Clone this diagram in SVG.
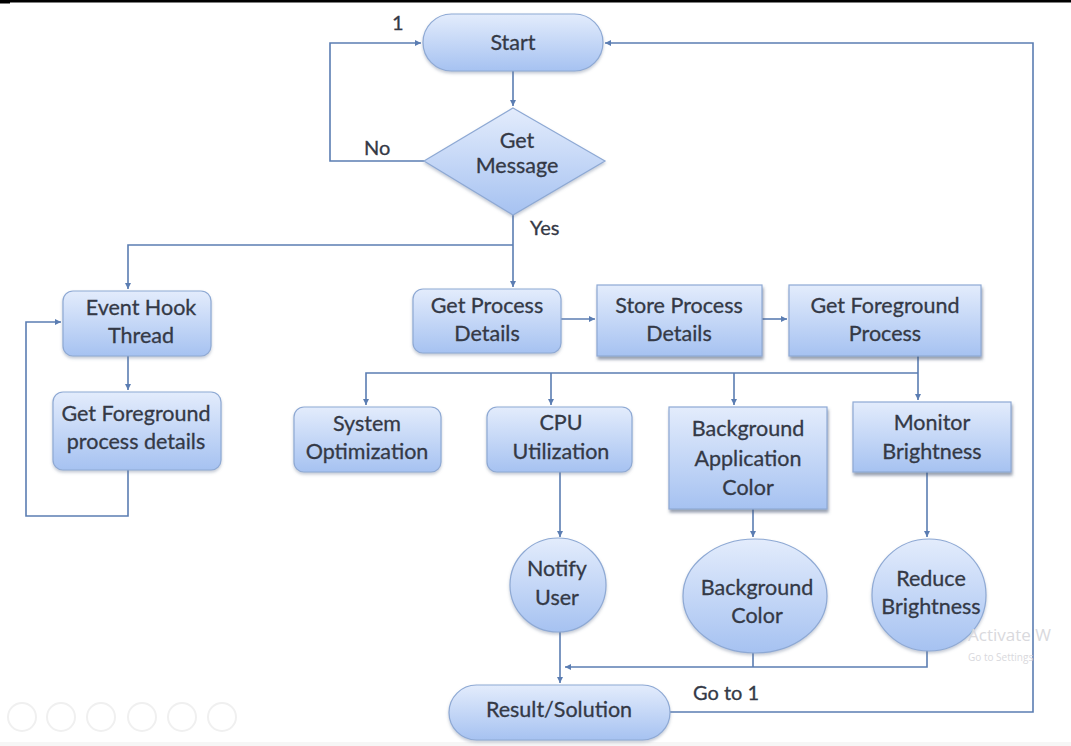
<svg xmlns="http://www.w3.org/2000/svg" width="1071" height="746" viewBox="0 0 1071 746">
<style>
  .lbl{font-family:Lato,"Open Sans","Liberation Sans",sans-serif;font-size:21.5px;fill:#343946;stroke:#343946;stroke-width:0.3;text-anchor:middle;dominant-baseline:central}
  .free{font-family:Lato,"Open Sans","Liberation Sans",sans-serif;font-size:20px;fill:#343946;stroke:#343946;stroke-width:0.3;dominant-baseline:central}
  .node{fill:url(#g);stroke:#8ea9d4;stroke-width:1.2}
  .sq{fill:url(#g);stroke:#8ea9d4;stroke-width:1.2;filter:url(#sh)}
  .c{fill:none;stroke:#5b7db2;stroke-width:1.6}
  .ar{marker-end:url(#ah)}
  .wm{font-family:"Open Sans","Liberation Sans",sans-serif;fill:#d9d9dd}
  .ic{fill:none;stroke:#f0f0f0;stroke-width:2}
</style>
<defs>
  <linearGradient id="g" x1="0" y1="0" x2="0" y2="1">
    <stop offset="0" stop-color="#e3ecfc"/>
    <stop offset="1" stop-color="#a6c2f1"/>
  </linearGradient>
  <filter id="sh" x="-10%" y="-10%" width="125%" height="130%">
    <feDropShadow dx="1" dy="3" stdDeviation="1.5" flood-color="#44536e" flood-opacity="0.55"/>
  </filter>
  <filter id="sh2" x="-10%" y="-10%" width="125%" height="130%">
    <feDropShadow dx="0" dy="2" stdDeviation="1.5" flood-color="#6a7a96" flood-opacity="0.4"/>
  </filter>
  <marker id="ah" markerWidth="7" markerHeight="7" refX="6" refY="3.5" orient="auto" markerUnits="userSpaceOnUse">
    <path d="M0,0.5 L6,3.5 L0,6.5 Z" fill="#5b7db2"/>
  </marker>
</defs>
<rect width="1071" height="746" fill="#ffffff"/>
<rect x="0" y="0" width="1071" height="2.5" fill="#000"/>
<rect x="0" y="0" width="10" height="3.5" fill="#000"/>
<rect x="0" y="742" width="1071" height="4" fill="#f6f6f6"/>

<g id="connectors">
  <path class="c ar" d="M513,71 V106"/>
  <path class="c ar" d="M424,161 H330 V43 H421"/>
  <path class="c ar" d="M513,215 V287"/>
  <path class="c ar" d="M513,245 H128 V289"/>
  <path class="c ar" d="M128,356 V390"/>
  <path class="c ar" d="M128,470 V516 H26 V322 H61"/>
  <path class="c ar" d="M561,319 H595"/>
  <path class="c ar" d="M762,319 H787"/>
  <path class="c ar" d="M918,356 V400"/>
  <path class="c ar" d="M918,373 H366 V405"/>
  <path class="c ar" d="M551,373 V405"/>
  <path class="c ar" d="M734,373 V405"/>
  <path class="c ar" d="M560,472 V537"/>
  <path class="c ar" d="M753,509 V537"/>
  <path class="c ar" d="M927,472 V537"/>
  <path class="c ar" d="M927,650 V667 H565"/>
  <path class="c" d="M753,653 V667"/>
  <path class="c ar" d="M560,632 V683"/>
  <path class="c ar" d="M670,712 H1033 V43 H605"/>
</g>

<g id="labels">
  <text class="free" x="392" y="22" font-size="17">1</text>
  <text class="free" x="364" y="147">No</text>
  <text class="free" x="530" y="227">Yes</text>
  <text class="free" x="693" y="692">Go to 1</text>
</g>

<g id="start">
  <rect class="node" x="423" y="14" width="180" height="57" rx="28.5" filter="url(#sh2)"/>
  <text class="lbl" x="513" y="42">Start</text>
</g>
<g id="get-message">
  <polygon class="node" points="513,108 605,161 513,215 424,161" filter="url(#sh2)"/>
  <text class="lbl" x="517" y="140">Get</text>
  <text class="lbl" x="517" y="165">Message</text>
</g>
<g id="event-hook">
  <rect class="node" x="63" y="291" width="148" height="65" rx="10" filter="url(#sh2)"/>
  <text class="lbl" x="141" y="307">Event Hook</text>
  <text class="lbl" x="141" y="335">Thread</text>
</g>
<g id="get-fg-details">
  <rect class="node" x="53" y="392" width="168" height="78" rx="10" filter="url(#sh2)"/>
  <text class="lbl" x="136" y="413">Get Foreground</text>
  <text class="lbl" x="136" y="441">process details</text>
</g>
<g id="get-process">
  <rect class="node" x="413" y="289" width="148" height="64" rx="10" filter="url(#sh2)"/>
  <text class="lbl" x="487" y="305">Get Process</text>
  <text class="lbl" x="487" y="333">Details</text>
</g>
<g id="store-process">
  <rect class="sq" x="597" y="285" width="165" height="71"/>
  <text class="lbl" x="679" y="305">Store Process</text>
  <text class="lbl" x="679" y="333">Details</text>
</g>
<g id="get-fg-process">
  <rect class="sq" x="789" y="285" width="192" height="71"/>
  <text class="lbl" x="885" y="305">Get Foreground</text>
  <text class="lbl" x="885" y="333">Process</text>
</g>
<g id="system-opt">
  <rect class="node" x="294" y="407" width="147" height="65" rx="10" filter="url(#sh2)"/>
  <text class="lbl" x="367" y="423">System</text>
  <text class="lbl" x="367" y="451">Optimization</text>
</g>
<g id="cpu">
  <rect class="node" x="487" y="407" width="145" height="65" rx="10" filter="url(#sh2)"/>
  <text class="lbl" x="561" y="422">CPU</text>
  <text class="lbl" x="561" y="451">Utilization</text>
</g>
<g id="bg-app">
  <rect class="sq" x="669" y="407" width="158" height="102"/>
  <text class="lbl" x="748" y="428">Background</text>
  <text class="lbl" x="748" y="458">Application</text>
  <text class="lbl" x="748" y="487">Color</text>
</g>
<g id="monitor">
  <rect class="sq" x="853" y="402" width="158" height="70"/>
  <text class="lbl" x="932" y="422">Monitor</text>
  <text class="lbl" x="932" y="451">Brightness</text>
</g>
<g id="notify">
  <ellipse class="node" cx="558" cy="585" rx="48" ry="47" filter="url(#sh2)"/>
  <text class="lbl" x="557" y="568">Notify</text>
  <text class="lbl" x="557" y="597">User</text>
</g>
<g id="bg-color">
  <ellipse class="node" cx="755" cy="596" rx="72" ry="57" filter="url(#sh2)"/>
  <text class="lbl" x="757" y="587">Background</text>
  <text class="lbl" x="757" y="615">Color</text>
</g>
<g id="reduce">
  <ellipse class="node" cx="929" cy="595" rx="57" ry="56" filter="url(#sh2)"/>
  <text class="lbl" x="931" y="578">Reduce</text>
  <text class="lbl" x="931" y="606">Brightness</text>
</g>
<g id="result">
  <rect class="node" x="449" y="685" width="221" height="55" rx="27.5" filter="url(#sh2)"/>
  <text class="lbl" x="559" y="709">Result/Solution</text>
</g>

<g id="overlay">
  <text class="wm" x="968" y="641" font-size="17">Activate W</text>
  <text class="wm" x="968" y="661" font-size="10">Go to Settings</text>
  <circle class="ic" cx="22" cy="717" r="14"/>
  <circle class="ic" cx="61" cy="717" r="14"/>
  <circle class="ic" cx="101" cy="717" r="14"/>
  <circle class="ic" cx="142" cy="717" r="14"/>
  <circle class="ic" cx="182" cy="717" r="14"/>
  <circle class="ic" cx="222" cy="717" r="14"/>
</g>
</svg>
